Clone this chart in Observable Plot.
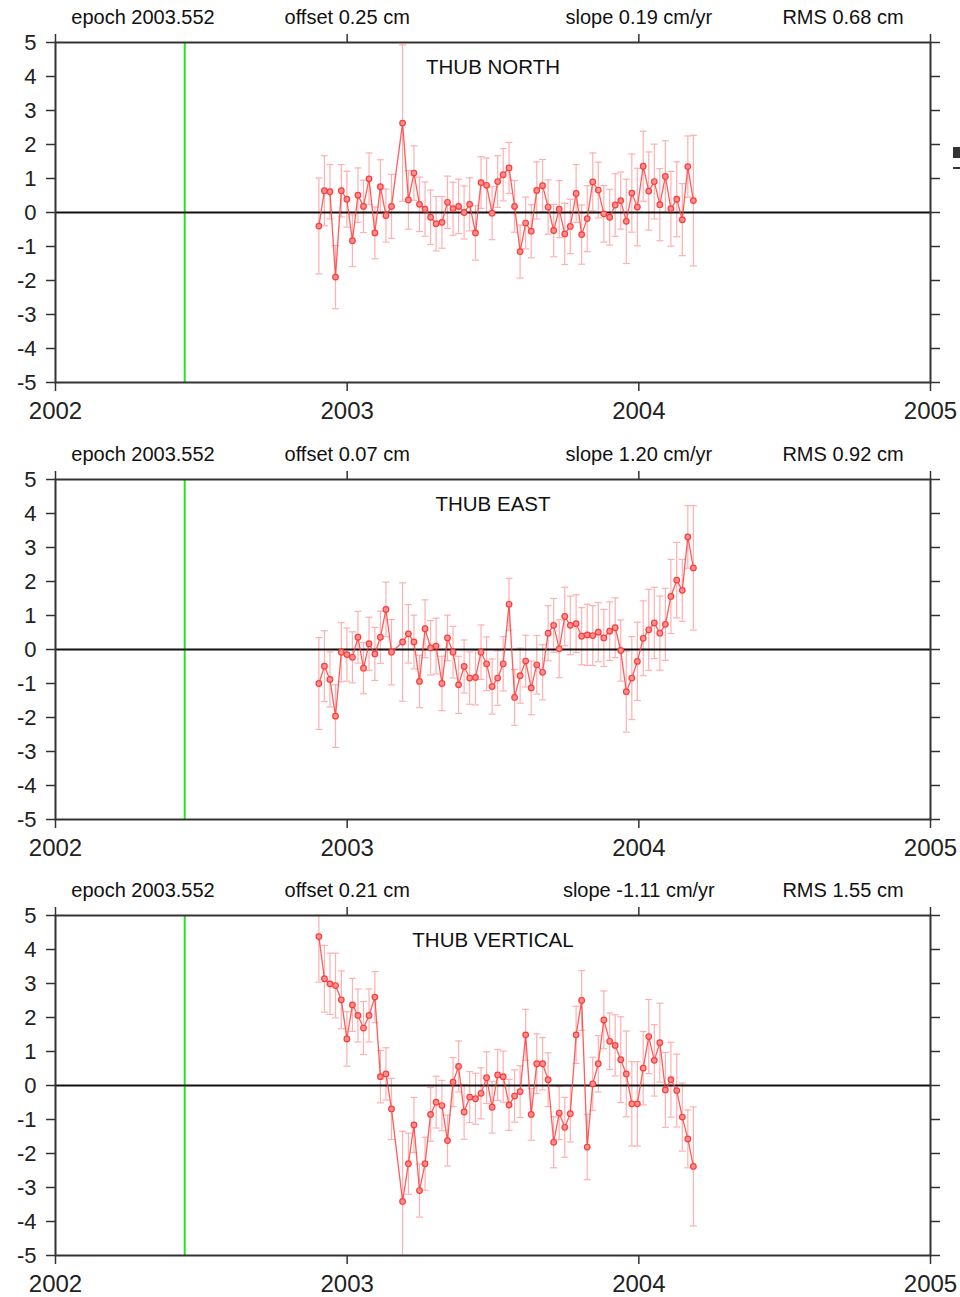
<!DOCTYPE html>
<html>
<head>
<meta charset="utf-8">
<script src="https://cdn.jsdelivr.net/npm/d3@7"></script>
<script src="https://cdn.jsdelivr.net/npm/@observablehq/plot@0.6"></script>
<style>
  html, body { margin: 0; padding: 0; background: #fff; }
  #chart { position: relative; width: 960px; }
  #chart svg { display: block; }
  .edge { position: absolute; background: #333; }
</style>
</head>
<body>
<div id="chart">
  <div class="edge" style="left:953px;top:147px;width:7px;height:11px;"></div>
  <div class="edge" style="left:953px;top:167px;width:7px;height:2px;"></div>
</div>
<script>
// Epochs (decimal years) of the weekly solutions
const epochs = [
  2002.903, 2002.922, 2002.941, 2002.960, 2002.980, 2002.999, 2003.018, 2003.037, 2003.056, 2003.075,
  2003.095, 2003.114, 2003.133, 2003.152, 2003.190, 2003.210, 2003.229, 2003.248, 2003.267, 2003.286,
  2003.305, 2003.325, 2003.344, 2003.363, 2003.382, 2003.401, 2003.420, 2003.440, 2003.459, 2003.478,
  2003.497, 2003.516, 2003.535, 2003.555, 2003.574, 2003.593, 2003.612, 2003.631, 2003.650, 2003.670,
  2003.689, 2003.708, 2003.727, 2003.746, 2003.765, 2003.785, 2003.804, 2003.823, 2003.842, 2003.861,
  2003.880, 2003.900, 2003.919, 2003.938, 2003.957, 2003.976, 2003.995, 2004.015, 2004.034, 2004.053,
  2004.072, 2004.091, 2004.110, 2004.130, 2004.149, 2004.168, 2004.187
];

// Residuals (cm)
const northValues = [
  -0.40, 0.64, 0.61, -1.90, 0.64, 0.39, -0.83, 0.51, 0.18, 0.99,
  -0.60, 0.76, -0.09, 0.18, 2.63, 0.37, 1.16, 0.24, 0.10, -0.14,
  -0.33, -0.29, 0.30, 0.11, 0.18, 0.00, 0.24, -0.60, 0.88, 0.80,
  -0.02, 0.91, 1.11, 1.31, 0.18, -1.15, -0.31, -0.55, 0.65, 0.79,
  0.16, -0.53, 0.10, -0.63, -0.41, 0.56, -0.65, -0.18, 0.90, 0.66,
  -0.04, -0.14, 0.22, 0.35, -0.26, 0.57, 0.16, 1.36, 0.63, 0.91,
  0.23, 1.06, 0.11, 0.39, -0.21, 1.35, 0.35
];
const northSigma = [
  1.41, 1.03, 0.80, 0.93, 0.77, 0.82, 0.76, 0.80, 0.77, 0.76,
  0.76, 0.79, 0.78, 0.94, 2.30, 0.86, 0.80, 0.80, 0.80, 0.80,
  0.80, 0.76, 0.77, 0.78, 0.80, 0.78, 0.78, 0.80, 0.76, 0.80,
  0.78, 0.76, 0.77, 0.75, 0.76, 0.78, 0.76, 0.78, 0.84, 0.77,
  0.80, 0.77, 0.84, 0.90, 0.80, 0.85, 0.87, 0.97, 0.85, 0.82,
  0.83, 0.82, 0.92, 0.84, 1.24, 1.15, 1.14, 1.03, 1.15, 1.10,
  1.06, 1.05, 1.10, 1.10, 1.06, 0.90, 1.92
];
const eastValues = [
  -1.00, -0.49, -0.88, -1.96, -0.08, -0.15, -0.23, 0.36, -0.55, 0.17,
  -0.13, 0.36, 1.18, -0.08, 0.22, 0.46, 0.22, -0.94, 0.61, 0.05,
  0.10, -1.00, 0.34, -0.08, -1.04, -0.50, -0.84, -0.82, -0.08, -0.42,
  -1.09, -0.84, -0.42, 1.33, -1.41, -0.77, -0.34, -1.13, -0.45, -0.67,
  0.48, 0.71, 0.02, 0.97, 0.71, 0.76, 0.39, 0.43, 0.41, 0.51,
  0.34, 0.54, 0.64, -0.03, -1.24, -0.84, -0.35, 0.33, 0.58, 0.78,
  0.48, 0.74, 1.56, 2.04, 1.74, 3.31, 2.40
];
const eastSigma = [
  1.35, 1.04, 0.81, 0.92, 0.87, 0.78, 0.75, 0.76, 0.75, 0.78,
  0.78, 0.77, 0.80, 0.96, 1.74, 0.86, 0.79, 0.77, 0.85, 0.80,
  0.82, 0.80, 0.67, 0.76, 0.84, 0.78, 0.77, 0.81, 0.80, 0.79,
  0.81, 0.80, 0.80, 0.76, 0.82, 0.81, 0.76, 0.79, 0.86, 0.81,
  0.81, 0.79, 0.85, 0.86, 0.86, 0.85, 0.84, 0.90, 0.88, 0.87,
  0.84, 0.86, 0.88, 0.90, 1.19, 1.22, 1.15, 1.10, 1.19, 1.05,
  1.09, 1.06, 1.09, 1.11, 0.91, 0.92, 1.83
];
const vertValues = [
  4.38, 3.14, 2.99, 2.94, 2.52, 1.37, 2.37, 2.06, 1.69, 2.06,
  2.60, 0.26, 0.34, -0.69, -3.41, -2.30, -1.16, -3.09, -2.30, -0.85,
  -0.49, -0.59, -1.62, 0.10, 0.56, -0.78, -0.34, -0.39, -0.23, 0.23,
  -0.64, 0.31, 0.26, -0.57, -0.31, -0.18, 1.49, -0.85, 0.64, 0.64,
  0.17, -1.67, -0.81, -1.23, -0.83, 1.49, 2.50, -1.81, 0.05, 0.64,
  1.93, 1.30, 1.18, 0.76, 0.34, -0.54, -0.54, 0.51, 1.44, 0.74,
  1.26, -0.13, 0.17, -0.15, -0.93, -1.57, -2.38
];
const vertSigma = [
  1.34, 0.98, 0.90, 0.95, 0.85, 0.80, 0.78, 0.78, 0.78, 0.78,
  0.75, 0.77, 0.77, 0.90, 2.06, 0.90, 0.81, 0.78, 0.78, 0.79,
  0.76, 0.74, 0.75, 0.72, 0.75, 0.80, 0.75, 0.75, 0.75, 0.76,
  0.76, 0.75, 0.75, 0.75, 0.77, 0.76, 0.75, 0.76, 0.88, 0.77,
  0.79, 0.75, 0.78, 0.88, 0.83, 0.84, 0.88, 0.96, 0.78, 0.83,
  0.85, 0.83, 0.90, 1.26, 1.26, 1.24, 1.24, 1.08, 1.09, 1.05,
  1.16, 1.10, 1.10, 1.07, 1.00, 0.85, 1.75
];

// Titles and header statistics
const panelTitles = ["THUB NORTH", "THUB EAST", "THUB VERTICAL"];
const epochLabels = ["epoch 2003.552", "epoch 2003.552", "epoch 2003.552"];
const offsetLabels = ["offset 0.25 cm", "offset 0.07 cm", "offset 0.21 cm"];
const slopeLabels = ["slope 0.19 cm/yr", "slope 1.20 cm/yr", "slope -1.11 cm/yr"];
const rmsLabels = ["RMS 0.68 cm", "RMS 0.92 cm", "RMS 1.55 cm"];

// Axis ticks
const xTicks = [2002, 2003, 2004, 2005];
const yTicks = [-5, -4, -3, -2, -1, 0, 1, 2, 3, 4, 5];
const markerEpoch = 2002.443; // green vertical marker

const panels = [
  {values: northValues, sigma: northSigma},
  {values: eastValues, sigma: eastSigma},
  {values: vertValues, sigma: vertSigma}
];
const heights = [437, 436, 424];
const headerX = [2002.3, 2003.0, 2004.0, 2004.7];

const capSymbol = {
  draw(ctx, size) { ctx.moveTo(-3.5, 0); ctx.lineTo(3.5, 0); }
};

const font = "'Liberation Sans', Arial, Helvetica, sans-serif";
const chart = document.getElementById("chart");

panels.forEach((p, k) => {
  const data = epochs.map((t, i) => ({
    t, v: p.values[i],
    lo: Math.max(-5, p.values[i] - p.sigma[i]),
    hi: Math.min(5, p.values[i] + p.sigma[i])
  }));
  const headers = [epochLabels[k], offsetLabels[k], slopeLabels[k], rmsLabels[k]]
    .map((label, j) => ({label, x: headerX[j]}));
  const h = heights[k];
  const svg = Plot.plot({
    width: 960,
    height: h,
    marginLeft: 55,
    marginRight: 30,
    marginTop: 42,
    marginBottom: h - 42 - 340,
    style: {fontFamily: font, fontSize: "22px", color: "#222", background: "#fff"},
    x: {domain: [2002, 2005]},
    y: {domain: [-5, 5]},
    marks: [
      Plot.axisY({anchor: "left", ticks: yTicks, tickSize: 9, tickPadding: 10, fontSize: 22, tickFormat: d => String(d), stroke: "#333", strokeWidth: 1.5, label: null}),
      Plot.axisY({anchor: "right", ticks: yTicks, tickSize: 9, tickFormat: () => "", stroke: "#333", strokeWidth: 1.5, label: null}),
      Plot.axisX({anchor: "bottom", ticks: xTicks, tickSize: 9, tickPadding: 10, fontSize: 24, tickFormat: d => String(d), stroke: "#333", strokeWidth: 1.5, label: null}),
      Plot.axisX({anchor: "top", ticks: xTicks, tickSize: 9, tickFormat: () => "", stroke: "#333", strokeWidth: 1.5, label: null}),
      Plot.ruleX([markerEpoch], {stroke: "#22e622", strokeWidth: 2}),
      Plot.ruleX(data, {x: "t", y1: "lo", y2: "hi", stroke: "#ffb0b0", strokeWidth: 1.2}),
      Plot.dot(data, {x: "t", y: "lo", symbol: capSymbol, stroke: "#ffb0b0", fill: "none", strokeWidth: 1.2}),
      Plot.dot(data, {x: "t", y: "hi", symbol: capSymbol, stroke: "#ffb0b0", fill: "none", strokeWidth: 1.2}),
      Plot.ruleY([0], {stroke: "#111", strokeWidth: 2}),
      Plot.line(data, {x: "t", y: "v", stroke: "#ff4040", strokeWidth: 1.3, strokeOpacity: 0.85}),
      Plot.dot(data, {x: "t", y: "v", r: 2.8, stroke: "#ff3a3a", fill: "#ff9090", strokeWidth: 1.2}),
      Plot.frame({stroke: "#333", strokeWidth: 2}),
      Plot.text([panelTitles[k]], {x: [2003.5], frameAnchor: "top", dy: 25, fontSize: 20.5, fill: "#111", lineAnchor: "middle"}),
      Plot.text(headers, {x: "x", text: "label", frameAnchor: "top", dy: -19, lineAnchor: "bottom", fontSize: 20, fill: "#111"})
    ]
  });
  chart.appendChild(svg);
});
</script>
</body>
</html>
